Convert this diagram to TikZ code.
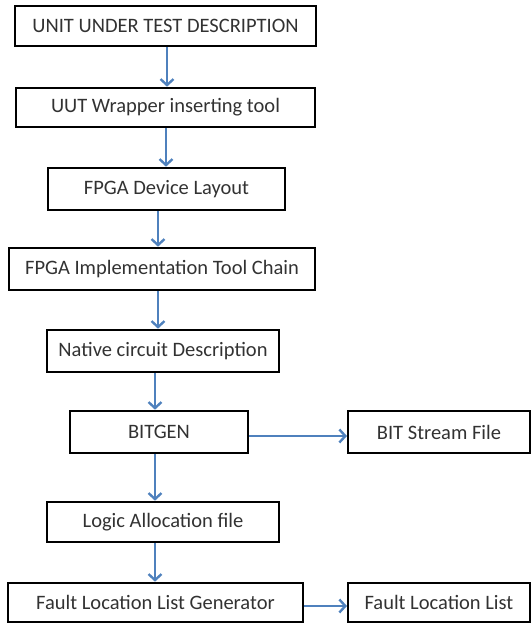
\documentclass[tikz,border=0pt]{standalone}
\usepackage{fontspec}
\setmainfont{Carlito}
\usepackage{tikz}
\usetikzlibrary{arrows.meta,positioning,calc}
\definecolor{flowblue}{RGB}{79,129,189}
\definecolor{labelgray}{RGB}{50,50,50}

\begin{document}
\begin{tikzpicture}[
    x=1pt, y=-1pt,
    stage/.style={draw=black, line width=2.6pt, minimum height=40pt, inner sep=0pt, text centered, text=labelgray, font=\fontsize{20.5}{24}\selectfont},
    output/.style={stage, line width=2pt},
    flow/.style={draw=flowblue, line width=2.4pt, -{Straight Barb[length=6pt, width=13pt, line width=2.4pt]}}
]
\useasboundingbox (0,0) rectangle (532,623);

% Main chain
\node[stage, minimum width=301pt] (uut) at (165.5,26) {UNIT UNDER TEST DESCRIPTION};
\node[stage, minimum width=299pt, minimum height=39pt] (wrapper) at (165.5,107.5) {UUT Wrapper inserting tool};
\node[stage, minimum width=237pt, minimum height=42pt] (layout) at (166.5,189) {FPGA Device Layout};
\node[stage, minimum width=306pt, minimum height=42pt] (chain) at (162,269) {FPGA Implementation Tool Chain};
\node[stage, minimum width=232pt, minimum height=42pt] (native) at (163,351) {Native circuit Description};
\node[stage, minimum width=178pt, minimum height=42pt] (bitgen) at (159,432) {BITGEN};
\node[stage, minimum width=232pt] (alloc) at (163,522) {Logic Allocation file};
\node[stage, minimum width=295pt, minimum height=39pt] (faultgen) at (155.5,602.5) {Fault Location List Generator};

% Outputs on the right
\node[output, minimum width=182pt, minimum height=42pt] (bitstream) at (439,432) {BIT Stream File};
\node[output, minimum width=182pt, minimum height=39pt] (faultlist) at (439,602.5) {Fault Location List};

% Vertical flow
\draw[flow] ([xshift=1.5pt]uut.south) -- ([xshift=1.5pt]uut.south |- wrapper.north);
\draw[flow] ([xshift=0.5pt]wrapper.south) -- ([xshift=0.5pt]wrapper.south |- layout.north);
\draw[flow] ([xshift=-8.5pt]layout.south) -- ([xshift=-8.5pt]layout.south |- chain.north);
\draw[flow] ([xshift=-4pt]chain.south) -- ([xshift=-4pt]chain.south |- native.north);
\draw[flow] ([xshift=-8pt]native.south) -- ([xshift=-8pt]native.south |- bitgen.north);
\draw[flow] ([xshift=-4pt]bitgen.south) -- ([xshift=-4pt]bitgen.south |- alloc.north);
\draw[flow] ([xshift=-8pt]alloc.south) -- ([xshift=-8pt]alloc.south |- faultgen.north);

% Side outputs
\draw[flow] ([yshift=-4pt]bitgen.east) -- ([yshift=-4pt]bitgen.east -| bitstream.west);
\draw[flow] ([yshift=-3.5pt]faultgen.east) -- ([yshift=-3.5pt]faultgen.east -| faultlist.west);

\end{tikzpicture}
\end{document}
